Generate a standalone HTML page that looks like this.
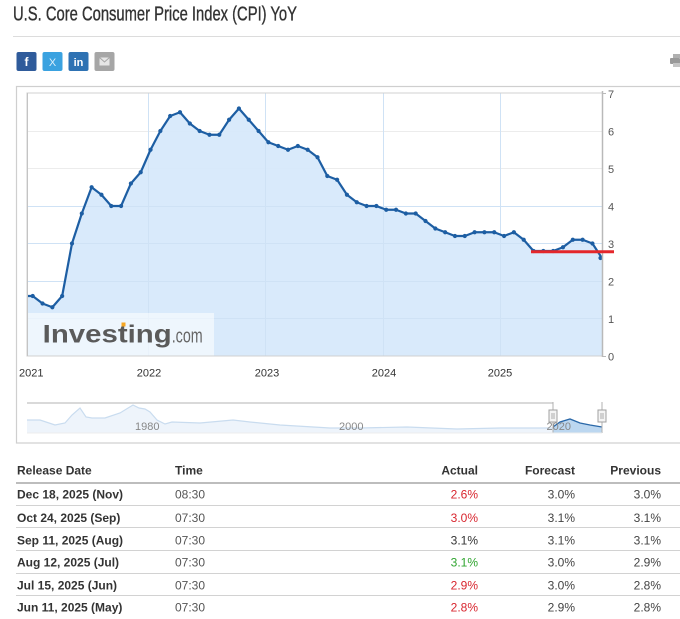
<!DOCTYPE html>
<html>
<head>
<meta charset="utf-8">
<style>
html,body{margin:0;padding:0;background:#fff;}
body{width:680px;height:619px;overflow:hidden;position:relative;font-family:"Liberation Sans",Arial,sans-serif;}
svg{position:absolute;left:0;top:0;}
</style>
</head>
<body>
<svg width="680" height="619" viewBox="0 0 680 619" xmlns="http://www.w3.org/2000/svg" font-family="Liberation Sans, Arial, sans-serif">
  <!-- Title -->
  <text x="13" y="20.5" font-size="20" fill="#333" stroke="#333" stroke-width="0.35" textLength="284" lengthAdjust="spacingAndGlyphs">U.S. Core Consumer Price Index (CPI) YoY</text>
  <line x1="13" y1="36.5" x2="680" y2="36.5" stroke="#dcdcdc" stroke-width="1"/>

  <!-- Social icons -->
  <rect x="16.5" y="52" width="20" height="19" rx="2" fill="#2f5b9b"/>
  <text x="26.5" y="66" font-size="12" font-weight="bold" fill="#fff" text-anchor="middle">f</text>
  <rect x="42.5" y="52" width="20" height="19" rx="2" fill="#3aa2e0"/>
  <text x="52.5" y="66" font-size="11" fill="#d8eefb" text-anchor="middle">X</text>
  <rect x="68.5" y="52" width="20" height="19" rx="2" fill="#2e72b3"/>
  <text x="78.5" y="66" font-size="11" font-weight="bold" fill="#fff" text-anchor="middle">in</text>
  <rect x="94.5" y="52" width="20" height="19" rx="2" fill="#a6a6a6"/>
  <rect x="99.5" y="57.5" width="10" height="8" fill="#e6e6e6"/>
  <polyline points="99.5,57.5 104.5,62 109.5,57.5" fill="none" stroke="#a6a6a6" stroke-width="1"/>

  <!-- Print icon -->
  <rect x="673" y="54" width="7" height="4" fill="#b0b0b0"/>
  <rect x="670" y="58" width="10" height="6" rx="1" fill="#999"/>
  <rect x="673" y="63" width="7" height="4" fill="#c4c4c4"/>

  <!-- Chart container -->
  <rect x="16.5" y="86.5" width="680" height="356.5" fill="#fff" stroke="#cfcfcf" stroke-width="1.2"/>

  <!-- Plot area -->
  <defs>
    <clipPath id="plotclip"><rect x="27" y="93" width="575.5" height="263"/></clipPath>
  </defs>
  <rect x="27" y="93" width="575.5" height="263" fill="#fff"/>
  <g stroke="#ececec" stroke-width="1">
    <line x1="27" y1="131.5" x2="602" y2="131.5"/>
    <line x1="27" y1="168.5" x2="602" y2="168.5"/>
    <line x1="27" y1="206.5" x2="602" y2="206.5"/>
    <line x1="27" y1="243.5" x2="602" y2="243.5"/>
    <line x1="27" y1="281.5" x2="602" y2="281.5"/>
    <line x1="27" y1="318.5" x2="602" y2="318.5"/>
  </g>
  <g stroke="#ececec" stroke-width="1">
    <line x1="148.5" y1="93" x2="148.5" y2="356"/>
    <line x1="265.5" y1="93" x2="265.5" y2="356"/>
    <line x1="383.5" y1="93" x2="383.5" y2="356"/>
    <line x1="500.5" y1="93" x2="500.5" y2="356"/>
  </g>

  <g clip-path="url(#plotclip)">
    <path fill="#d7e9fb" fill-opacity="0.95" d="M22.88,296 L32.7,296 L42.52,303.5 L52.34,307.25 L62.16,296 L71.98,243.5 L81.8,213.5 L91.62,187.25 L101.44,194.75 L111.26,206 L121.08,206 L130.9,183.5 L140.72,172.25 L150.54,149.75 L160.36,131 L170.18,116 L180,112.25 L189.82,123.5 L199.64,131 L209.46,134.75 L219.28,134.75 L229.1,119.75 L238.92,108.5 L248.74,119.75 L258.56,131 L268.38,142.25 L278.2,146 L288.02,149.75 L297.84,146 L307.66,149.75 L317.48,157.25 L327.3,176 L337.12,179.75 L346.94,194.75 L356.76,202.25 L366.58,206 L376.4,206 L386.22,209.75 L396.04,209.75 L405.86,213.5 L415.68,213.5 L425.5,221 L435.32,228.5 L445.14,232.25 L454.96,236 L464.78,236 L474.6,232.25 L484.42,232.25 L494.24,232.25 L504.06,236 L513.88,232.25 L523.7,239.75 L533.52,251 L543.34,251 L553.16,251 L562.98,247.25 L572.8,239.75 L582.62,239.75 L592.44,243.5 L602.26,258.5 L602.26,356 L22.88,356 Z"/>
    <g stroke="#cfe2f5" stroke-width="1">
      <line x1="27" y1="318.5" x2="602" y2="318.5"/>
      <line x1="27" y1="281.5" x2="602" y2="281.5"/>
      <line x1="27" y1="243.5" x2="602" y2="243.5"/>
      <line x1="27" y1="206.5" x2="602" y2="206.5"/>
      <line x1="148.5" y1="93" x2="148.5" y2="356"/>
      <line x1="265.5" y1="93" x2="265.5" y2="356"/>
      <line x1="383.5" y1="93" x2="383.5" y2="356"/>
      <line x1="500.5" y1="93" x2="500.5" y2="356"/>
    </g>

    <rect x="27" y="313" width="187" height="43" fill="#ffffff" fill-opacity="0.55"/>
    <text x="42.7" y="342.7" font-size="25" font-weight="bold" fill="#5a5a5a" textLength="129" lengthAdjust="spacingAndGlyphs">Investing</text>
    <text x="171.7" y="342.7" font-size="20" fill="#666" textLength="31" lengthAdjust="spacingAndGlyphs">.com</text>
    <rect x="121.5" y="322.5" width="4" height="4" fill="#f5a623"/>

    <polyline fill="none" stroke="#1d5ea3" stroke-width="2.2" stroke-linejoin="round" points="22.88,296 32.7,296 42.52,303.5 52.34,307.25 62.16,296 71.98,243.5 81.8,213.5 91.62,187.25 101.44,194.75 111.26,206 121.08,206 130.9,183.5 140.72,172.25 150.54,149.75 160.36,131 170.18,116 180,112.25 189.82,123.5 199.64,131 209.46,134.75 219.28,134.75 229.1,119.75 238.92,108.5 248.74,119.75 258.56,131 268.38,142.25 278.2,146 288.02,149.75 297.84,146 307.66,149.75 317.48,157.25 327.3,176 337.12,179.75 346.94,194.75 356.76,202.25 366.58,206 376.4,206 386.22,209.75 396.04,209.75 405.86,213.5 415.68,213.5 425.5,221 435.32,228.5 445.14,232.25 454.96,236 464.78,236 474.6,232.25 484.42,232.25 494.24,232.25 504.06,236 513.88,232.25 523.7,239.75 533.52,251 543.34,251 553.16,251 562.98,247.25 572.8,239.75 582.62,239.75 592.44,243.5 602.26,258.5"/>
    <g fill="#1d5ea3">
      <circle cx="32.7" cy="296" r="2.1"/><circle cx="42.52" cy="303.5" r="2.1"/><circle cx="52.34" cy="307.25" r="2.1"/><circle cx="62.16" cy="296" r="2.1"/><circle cx="71.98" cy="243.5" r="2.1"/><circle cx="81.8" cy="213.5" r="2.1"/><circle cx="91.62" cy="187.25" r="2.1"/><circle cx="101.44" cy="194.75" r="2.1"/><circle cx="111.26" cy="206" r="2.1"/><circle cx="121.08" cy="206" r="2.1"/><circle cx="130.9" cy="183.5" r="2.1"/><circle cx="140.72" cy="172.25" r="2.1"/><circle cx="150.54" cy="149.75" r="2.1"/><circle cx="160.36" cy="131" r="2.1"/><circle cx="170.18" cy="116" r="2.1"/><circle cx="180" cy="112.25" r="2.1"/><circle cx="189.82" cy="123.5" r="2.1"/><circle cx="199.64" cy="131" r="2.1"/><circle cx="209.46" cy="134.75" r="2.1"/><circle cx="219.28" cy="134.75" r="2.1"/><circle cx="229.1" cy="119.75" r="2.1"/><circle cx="238.92" cy="108.5" r="2.1"/><circle cx="248.74" cy="119.75" r="2.1"/><circle cx="258.56" cy="131" r="2.1"/><circle cx="268.38" cy="142.25" r="2.1"/><circle cx="278.2" cy="146" r="2.1"/><circle cx="288.02" cy="149.75" r="2.1"/><circle cx="297.84" cy="146" r="2.1"/><circle cx="307.66" cy="149.75" r="2.1"/><circle cx="317.48" cy="157.25" r="2.1"/><circle cx="327.3" cy="176" r="2.1"/><circle cx="337.12" cy="179.75" r="2.1"/><circle cx="346.94" cy="194.75" r="2.1"/><circle cx="356.76" cy="202.25" r="2.1"/><circle cx="366.58" cy="206" r="2.1"/><circle cx="376.4" cy="206" r="2.1"/><circle cx="386.22" cy="209.75" r="2.1"/><circle cx="396.04" cy="209.75" r="2.1"/><circle cx="405.86" cy="213.5" r="2.1"/><circle cx="415.68" cy="213.5" r="2.1"/><circle cx="425.5" cy="221" r="2.1"/><circle cx="435.32" cy="228.5" r="2.1"/><circle cx="445.14" cy="232.25" r="2.1"/><circle cx="454.96" cy="236" r="2.1"/><circle cx="464.78" cy="236" r="2.1"/><circle cx="474.6" cy="232.25" r="2.1"/><circle cx="484.42" cy="232.25" r="2.1"/><circle cx="494.24" cy="232.25" r="2.1"/><circle cx="504.06" cy="236" r="2.1"/><circle cx="513.88" cy="232.25" r="2.1"/><circle cx="523.7" cy="239.75" r="2.1"/><circle cx="533.52" cy="251" r="2.1"/><circle cx="543.34" cy="251" r="2.1"/><circle cx="553.16" cy="251" r="2.1"/><circle cx="562.98" cy="247.25" r="2.1"/><circle cx="572.8" cy="239.75" r="2.1"/><circle cx="582.62" cy="239.75" r="2.1"/><circle cx="592.44" cy="243.5" r="2.1"/><circle cx="600.5" cy="258" r="2.1"/>
    </g>
  </g>

  <rect x="27" y="93" width="575.5" height="263" fill="none" stroke="#d0d0d0" stroke-width="1"/>
  <line x1="27.5" y1="93" x2="27.5" y2="356" stroke="#c4c4c4" stroke-width="1"/>
  <line x1="602.5" y1="91" x2="602.5" y2="357" stroke="#b9b9b9" stroke-width="1.5"/>
  <line x1="602.5" y1="93.5" x2="606" y2="93.5" stroke="#b9b9b9" stroke-width="1"/>
  <line x1="602.5" y1="356.5" x2="606" y2="356.5" stroke="#b9b9b9" stroke-width="1"/>

  <line x1="531" y1="251.7" x2="614" y2="251.7" stroke="#e4272b" stroke-width="3"/>

  <g font-size="11" fill="#555">
    <text x="608" y="98">7</text>
    <text x="608" y="135.5">6</text>
    <text x="608" y="173">5</text>
    <text x="608" y="210.5">4</text>
    <text x="608" y="248">3</text>
    <text x="608" y="285.5">2</text>
    <text x="608" y="323">1</text>
    <text x="608" y="360.5">0</text>
  </g>

  <g font-size="11" fill="#333">
    <text x="19" y="376.7">2021</text>
    <text x="149" y="376.7" text-anchor="middle">2022</text>
    <text x="267" y="376.7" text-anchor="middle">2023</text>
    <text x="384" y="376.7" text-anchor="middle">2024</text>
    <text x="500" y="376.7" text-anchor="middle">2025</text>
  </g>

  <!-- Navigator -->
  <line x1="27" y1="403" x2="553" y2="403" stroke="#c2c2c2" stroke-width="1.2"/>
  <path fill="#eef4fb" stroke="none" d="M27,420 L40,420 L55,425 L65,423 L72,415 L80,408 L86,417 L92,418 L105,418 L120,413 L133,405 L139,408 L145,409 L150,412 L157,420 L165,424 L172,422 L200,423 L233,420 L250,422 L280,425 L330,428 L360,428 L407,427 L457,429 L500,428 L553,428 L553,433 L27,433 Z"/>
  <polyline fill="none" stroke="#c9dcef" stroke-width="1.2" points="27,420 40,420 55,425 65,423 72,415 80,408 86,417 92,418 105,418 120,413 133,405 139,408 145,409 150,412 157,420 165,424 172,422 200,423 233,420 250,422 280,425 330,428 360,428 407,427 457,429 500,428 553,428"/>
  <path fill="#bcd7f0" d="M553,427 L560,422 L570,419 L580,423 L590,425 L602,427 L602,433 L553,433 Z"/>
  <polyline fill="none" stroke="#2a68a8" stroke-width="1.3" points="553,427 560,422 570,419 580,423 590,425 602,427"/>
  <line x1="553" y1="402" x2="553" y2="433" stroke="#b0b0b0" stroke-width="1"/>
  <line x1="602" y1="402" x2="602" y2="433" stroke="#b0b0b0" stroke-width="1"/>
  <line x1="27" y1="433" x2="602" y2="433" stroke="#ececec" stroke-width="1"/>
  <rect x="549" y="410" width="8" height="12" fill="#f4f4f4" stroke="#a0a0a0" stroke-width="1"/>
  <line x1="552" y1="413" x2="552" y2="419" stroke="#999" stroke-width="0.8"/>
  <line x1="554" y1="413" x2="554" y2="419" stroke="#999" stroke-width="0.8"/>
  <rect x="598" y="410" width="8" height="12" fill="#f4f4f4" stroke="#a0a0a0" stroke-width="1"/>
  <line x1="601" y1="413" x2="601" y2="419" stroke="#999" stroke-width="0.8"/>
  <line x1="603" y1="413" x2="603" y2="419" stroke="#999" stroke-width="0.8"/>
  <g font-size="11" fill="#888">
    <text x="135" y="430">1980</text>
    <text x="339" y="430">2000</text>
    <text x="546.5" y="430">2020</text>
  </g>

  <!-- Table -->
  <g font-size="12" font-weight="bold" fill="#333">
    <text x="17" y="474.3">Release Date</text>
    <text x="175" y="474.3">Time</text>
    <text x="478" y="474.3" text-anchor="end">Actual</text>
    <text x="575" y="474.3" text-anchor="end">Forecast</text>
    <text x="661" y="474.3" text-anchor="end">Previous</text>
  </g>
  <line x1="16" y1="483" x2="680" y2="483" stroke="#bdbdbd" stroke-width="2"/>
  <g stroke="#d2d2d2" stroke-width="1">
    <line x1="16" y1="505.5" x2="680" y2="505.5"/>
    <line x1="16" y1="527.5" x2="680" y2="527.5"/>
    <line x1="16" y1="550.5" x2="680" y2="550.5"/>
    <line x1="16" y1="573.5" x2="680" y2="573.5"/>
    <line x1="16" y1="595.5" x2="680" y2="595.5"/>
  </g>
  <g font-size="12" font-weight="bold" fill="#333">
    <text x="17" y="498.6">Dec 18, 2025 (Nov)</text>
    <text x="17" y="522">Oct 24, 2025 (Sep)</text>
    <text x="17" y="544.3">Sep 11, 2025 (Aug)</text>
    <text x="17" y="566.6">Aug 12, 2025 (Jul)</text>
    <text x="17" y="589.3">Jul 15, 2025 (Jun)</text>
    <text x="17" y="611.6">Jun 11, 2025 (May)</text>
  </g>
  <g font-size="12" fill="#555">
    <text x="175" y="498.6">08:30</text>
    <text x="175" y="522">07:30</text>
    <text x="175" y="544.3">07:30</text>
    <text x="175" y="566.6">07:30</text>
    <text x="175" y="589.3">07:30</text>
    <text x="175" y="611.6">07:30</text>
  </g>
  <g font-size="12" text-anchor="end">
    <text x="478" y="498.6" fill="#d8262f">2.6%</text>
    <text x="478" y="522" fill="#d8262f">3.0%</text>
    <text x="478" y="544.3" fill="#333">3.1%</text>
    <text x="478" y="566.6" fill="#2ea42e">3.1%</text>
    <text x="478" y="589.3" fill="#d8262f">2.9%</text>
    <text x="478" y="611.6" fill="#d8262f">2.8%</text>
  </g>
  <g font-size="12" text-anchor="end" fill="#444">
    <text x="575" y="498.6">3.0%</text>
    <text x="575" y="522">3.1%</text>
    <text x="575" y="544.3">3.1%</text>
    <text x="575" y="566.6">3.0%</text>
    <text x="575" y="589.3">3.0%</text>
    <text x="575" y="611.6">2.9%</text>
    <text x="661" y="498.6">3.0%</text>
    <text x="661" y="522">3.1%</text>
    <text x="661" y="544.3">3.1%</text>
    <text x="661" y="566.6">2.9%</text>
    <text x="661" y="589.3">2.8%</text>
    <text x="661" y="611.6">2.8%</text>
  </g>
</svg>
</body>
</html>
